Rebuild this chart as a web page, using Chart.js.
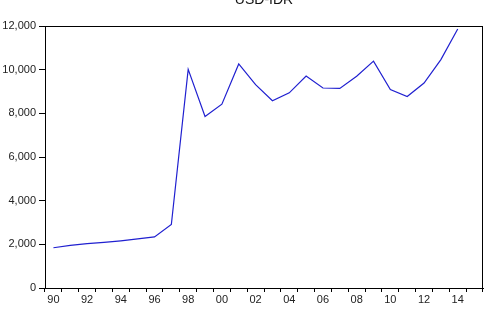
<!DOCTYPE html>
<html>
<head>
<meta charset="utf-8">
<script src="https://cdn.jsdelivr.net/npm/chart.js@4/dist/chart.umd.min.js"></script>
<style>
  html, body { margin: 0; padding: 0; background: #fff; }
  #wrap { width: 486px; height: 316px; }
</style>
</head>
<body>
<div id="wrap"><canvas id="c" width="486" height="316"></canvas></div>
<script>
// annual average USD-IDR, 1990-2014 (2015 band left empty on the axis)
const years = ['1990','1991','1992','1993','1994','1995','1996','1997','1998','1999',
  '2000','2001','2002','2003','2004','2005','2006','2007','2008','2009',
  '2010','2011','2012','2013','2014','2015'];
const usdIdr = [1843, 1950, 2030, 2087, 2161, 2249, 2342, 2909, 10014, 7855,
  8422, 10261, 9311, 8577, 8939, 9705, 9159, 9141, 9699, 10390,
  9090, 8770, 9387, 10461, 11865, null];
const yTicks = [0, 2000, 4000, 6000, 8000, 10000, 12000];
const title = 'USD-IDR';

const frameAndTitle = {
  id: 'frameAndTitle',
  afterDraw(chart) {
    const { ctx, chartArea } = chart;
    ctx.save();
    ctx.strokeStyle = '#000';
    ctx.lineWidth = 1;
    ctx.strokeRect(Math.round(chartArea.left) + 0.5, Math.round(chartArea.top) + 0.5,
      Math.round(chartArea.right - chartArea.left) - 1, Math.round(chartArea.bottom - chartArea.top));
    ctx.fillStyle = '#111';
    ctx.font = '14px "Liberation Sans", Arial, sans-serif';
    ctx.textAlign = 'center';
    ctx.textBaseline = 'alphabetic';
    ctx.fillText(title, (chartArea.left + chartArea.right) / 2, 4);
    ctx.restore();
  }
};

new Chart(document.getElementById('c'), {
  type: 'line',
  data: {
    labels: years,
    datasets: [{
      data: usdIdr,
      borderColor: '#2020d0',
      borderWidth: 1.2,
      pointRadius: 0,
      tension: 0,
      fill: false
    }]
  },
  options: {
    responsive: false,
    animation: false,
    layout: { padding: { top: 26, right: 3, left: 0, bottom: 0 } },
    plugins: { legend: { display: false }, tooltip: { enabled: false } },
    scales: {
      x: {
        type: 'category',
        offset: true,
        grid: { offset: true, drawOnChartArea: false, tickLength: 4, color: '#000' },
        border: { color: '#000' },
        ticks: {
          autoSkip: false,
          maxRotation: 0,
          padding: 1,
          color: '#222',
          font: { family: '"Liberation Sans", Arial, sans-serif', size: 11 },
          callback: function (v, i) {
            const y = parseInt(years[i], 10);
            return y % 2 === 0 ? years[i].slice(2) : '';
          }
        },
        afterFit(scale) { scale.height = 28; }
      },
      y: {
        min: 0,
        max: 12000,
        afterBuildTicks(scale) { scale.ticks = yTicks.map(v => ({ value: v })); },
        grid: { drawOnChartArea: false, tickLength: 6, color: '#000' },
        border: { color: '#000' },
        ticks: {
          padding: 3,
          color: '#222',
          font: { family: '"Liberation Sans", Arial, sans-serif', size: 11 },
          callback: v => v.toLocaleString('en-US')
        },
        afterFit(scale) { scale.width = 45; }
      }
    }
  },
  plugins: [frameAndTitle]
});
</script>
</body>
</html>
